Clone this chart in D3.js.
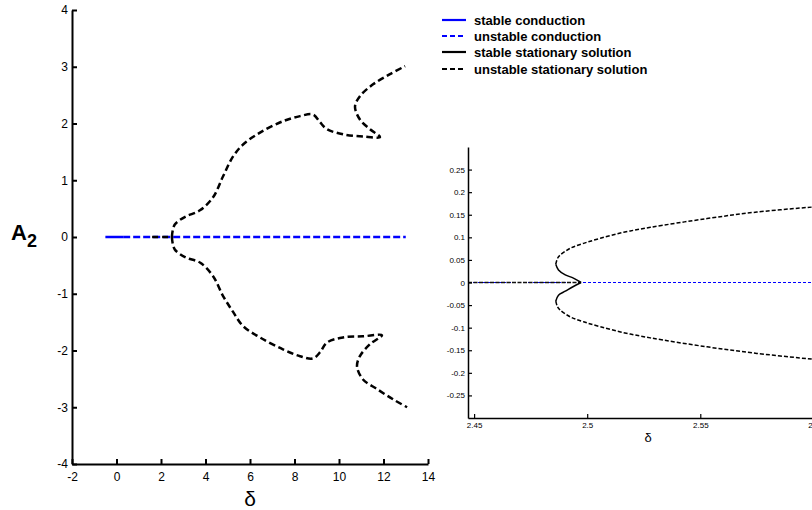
<!DOCTYPE html>
<html>
<head>
<meta charset="utf-8">
<script src="https://cdn.jsdelivr.net/npm/d3@7"></script>
<style>
  html, body { margin: 0; padding: 0; background: #fff; }
  svg { display: block; font-family: "Liberation Sans", Arial, sans-serif; }
</style>
</head>
<body>
<svg id="chart" width="812" height="510"></svg>
<script>
// ---- Bifurcation diagram data -------------------------------------------
// Main panel: conduction state (A2 = 0) and the two stationary branches.
const conductionStableDelta = [-0.5, 0.3];
const conductionUnstableDelta = [0.3, 13];
const conductionOverlapDelta = [1.6, 2.49];

const upperDelta = [2.49, 2.52, 2.62, 2.85, 3.16, 3.75, 4.34, 4.79, 5.24, 5.69, 6.45, 7.48, 8.25, 8.83, 9.15, 9.46, 10.18, 11.08, 11.84, 11.39, 10.94, 10.72, 10.94, 11.53, 12.29, 12.97];
const upperA     = [0, 0.10, 0.22, 0.30, 0.37, 0.47, 0.70, 1.07, 1.42, 1.63, 1.84, 2.04, 2.13, 2.16, 2.02, 1.90, 1.81, 1.77, 1.76, 1.90, 2.07, 2.30, 2.48, 2.69, 2.87, 3.01];

const lowerDelta = [2.49, 2.52, 2.62, 2.85, 3.16, 3.75, 4.34, 4.79, 5.24, 5.69, 6.45, 7.48, 8.25, 8.83, 9.15, 9.46, 10.18, 11.08, 11.93, 11.39, 10.94, 10.81, 11.08, 11.71, 12.43, 13.06];
const lowerA     = [0, -0.10, -0.22, -0.30, -0.37, -0.45, -0.69, -1.04, -1.32, -1.57, -1.77, -1.98, -2.10, -2.14, -2.03, -1.86, -1.77, -1.75, -1.73, -1.89, -2.10, -2.28, -2.51, -2.68, -2.86, -3.00];

const mainXTicks = [-2, 0, 2, 4, 6, 8, 10, 12, 14];
const mainYTicks = [-4, -3, -2, -1, 0, 1, 2, 3, 4];

// Inset: close-up of the pitchfork near delta = 2.5
const insetConductionDelta = [2.4473, 2.61];
const insetStableConductionDelta = [2.4473, 2.4973];
const insetUpperDelta = [2.4973, 2.4939, 2.4903, 2.4873, 2.4861, 2.4869, 2.4881, 2.4925, 2.4984, 2.5058, 2.5161, 2.5279, 2.553, 2.575, 2.6];
const insetUpperA     = [0, 0.0097, 0.0170, 0.0279, 0.0405, 0.0537, 0.0610, 0.0757, 0.0867, 0.0978, 0.1111, 0.1221, 0.1416, 0.156, 0.1672];
const insetLowerDelta = [2.4973, 2.4939, 2.4903, 2.4873, 2.4861, 2.4869, 2.4881, 2.4925, 2.4984, 2.5058, 2.5161, 2.5279, 2.553, 2.575, 2.6];
const insetLowerA     = [0, -0.0088, -0.0193, -0.0280, -0.0414, -0.0540, -0.0613, -0.0760, -0.0870, -0.0980, -0.1110, -0.1226, -0.1425, -0.157, -0.170];
const insetFoldIndex = 4; // stable part runs from the bifurcation point to the fold

const insetXTicks = [2.45, 2.5, 2.55, 2.6];
const insetYTicks = [-0.25, -0.2, -0.15, -0.1, -0.05, 0, 0.05, 0.1, 0.15, 0.2, 0.25];

const legendLabels = ["stable conduction", "unstable conduction", "stable stationary solution", "unstable stationary solution"];

// ---- Drawing --------------------------------------------------------------
const svg = d3.select("#chart");
const BLUE = "#0000ff";

const zip = (xs, ys) => xs.map((x, i) => [x, ys[i]]);

// Main panel scales
const x = d3.scaleLinear().domain([-2, 14]).range([72, 428]);
const y = d3.scaleLinear().domain([-4, 4]).range([464, 10]);

const mainLine = d3.line().x(d => x(d[0])).y(d => y(d[1])).curve(d3.curveCatmullRom.alpha(0.5));

const main = svg.append("g");

// conduction state
main.append("path")
  .attr("d", mainLine(conductionStableDelta.map(d => [d, 0])))
  .attr("fill", "none").attr("stroke", BLUE).attr("stroke-width", 2.5);
main.append("path")
  .attr("d", mainLine(conductionUnstableDelta.map(d => [d, 0])))
  .attr("fill", "none").attr("stroke", BLUE).attr("stroke-width", 2.5)
  .attr("stroke-dasharray", "7,3");
main.append("path")
  .attr("d", mainLine(conductionOverlapDelta.map(d => [d, 0])))
  .attr("fill", "none").attr("stroke", "#000").attr("stroke-width", 2.5)
  .attr("stroke-dasharray", "6,4");

// stationary branches
[zip(upperDelta, upperA), zip(lowerDelta, lowerA)].forEach(pts => {
  main.append("path")
    .attr("d", mainLine(pts))
    .attr("fill", "none").attr("stroke", "#000").attr("stroke-width", 2.5)
    .attr("stroke-dasharray", "6.5,3.5");
});

// axes
const fmt = d => String(d);
const gx = main.append("g").attr("transform", `translate(0,${y(-4)})`)
  .call(d3.axisBottom(x).tickValues(mainXTicks).tickFormat(fmt).tickSizeInner(-5).tickSizeOuter(0).tickPadding(8));
const gy = main.append("g").attr("transform", `translate(${x(-2)},0)`)
  .call(d3.axisLeft(y).tickValues(mainYTicks).tickFormat(fmt).tickSizeInner(-5).tickSizeOuter(0).tickPadding(4));
[gx, gy].forEach(g => {
  g.select(".domain").attr("stroke", "#000").attr("stroke-width", 2);
  g.selectAll(".tick line").attr("stroke", "#000").attr("stroke-width", 2);
  g.selectAll(".tick text").attr("fill", "#000")
    .style("font-family", "'Liberation Sans', Arial, sans-serif").style("font-size", "12px");
});

// axis titles
main.append("text").attr("x", 250).attr("y", 506).attr("text-anchor", "middle")
  .style("font-size", "21px").text("δ");
const a2 = main.append("text").attr("x", 11).attr("y", 240)
  .style("font-size", "22px").style("font-weight", "bold");
a2.append("tspan").text("A");
a2.append("tspan").attr("dy", 7).style("font-size", "18px").text("2");

// Legend
const legendStyles = [
  { stroke: BLUE, dash: null },
  { stroke: BLUE, dash: "5,3" },
  { stroke: "#000", dash: null },
  { stroke: "#000", dash: "5,3" }
];
const legendRows = [20, 36, 52, 69];
const legend = svg.append("g");
legendLabels.forEach((label, i) => {
  legend.append("line")
    .attr("x1", 442).attr("x2", 466).attr("y1", legendRows[i]).attr("y2", legendRows[i])
    .attr("stroke", legendStyles[i].stroke).attr("stroke-width", 2.2)
    .attr("stroke-dasharray", legendStyles[i].dash);
  legend.append("text").attr("x", 474).attr("y", legendRows[i] + 4.5)
    .style("font-size", "13px").style("font-weight", "bold").text(label);
});

// Inset panel
const ix = d3.scaleLinear().domain([2.4473, 2.61]).range([468, 836]);
const iy = d3.scaleLinear().domain([-0.3, 0.3]).range([418, 147]);
const insetLine = d3.line().x(d => ix(d[0])).y(d => iy(d[1])).curve(d3.curveCatmullRom.alpha(0.5));

const inset = svg.append("g");

inset.append("path")
  .attr("d", insetLine(insetConductionDelta.map(d => [d, 0])))
  .attr("fill", "none").attr("stroke", BLUE).attr("stroke-width", 1.2)
  .attr("stroke-dasharray", "3,2");
inset.append("path")
  .attr("d", insetLine(insetStableConductionDelta.map(d => [d, 0])))
  .attr("fill", "none").attr("stroke", "#111").attr("stroke-width", 1.5)
  .attr("stroke-dasharray", "4,1.5");

[zip(insetUpperDelta, insetUpperA), zip(insetLowerDelta, insetLowerA)].forEach(pts => {
  inset.append("path")
    .attr("d", insetLine(pts.slice(0, insetFoldIndex + 1)))
    .attr("fill", "none").attr("stroke", "#000").attr("stroke-width", 1.5);
  inset.append("path")
    .attr("d", insetLine(pts.slice(insetFoldIndex)))
    .attr("fill", "none").attr("stroke", "#000").attr("stroke-width", 1.5)
    .attr("stroke-dasharray", "4,2");
});

const igx = inset.append("g").attr("transform", `translate(0,${iy(-0.3)})`)
  .call(d3.axisBottom(ix).tickValues(insetXTicks).tickFormat(fmt).tickSizeInner(-4).tickSizeOuter(0).tickPadding(4));
const igy = inset.append("g").attr("transform", `translate(${ix(2.4473)},0)`)
  .call(d3.axisLeft(iy).tickValues(insetYTicks).tickFormat(fmt).tickSizeInner(-4).tickSizeOuter(0).tickPadding(3));
[igx, igy].forEach(g => {
  g.select(".domain").attr("stroke", "#000").attr("stroke-width", 1.5);
  g.selectAll(".tick line").attr("stroke", "#000").attr("stroke-width", 1.2);
  g.selectAll(".tick text").attr("fill", "#000")
    .style("font-family", "'Liberation Sans', Arial, sans-serif").style("font-size", "8px");
});
inset.append("text").attr("x", 648).attr("y", 442).attr("text-anchor", "middle")
  .style("font-size", "13px").text("δ");
</script>
</body>
</html>
